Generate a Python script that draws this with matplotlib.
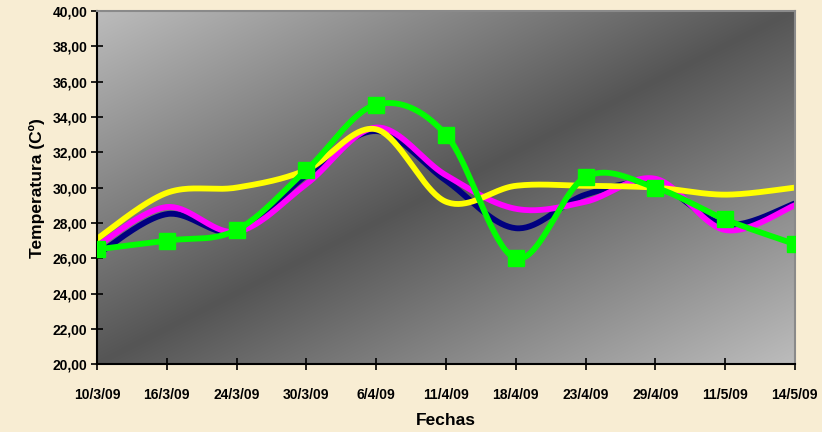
import numpy as np
import matplotlib
matplotlib.use("Agg")
import matplotlib.pyplot as plt

plt.rcParams['font.family'] = ['Liberation Sans', 'DejaVu Sans']
plt.rcParams['font.weight'] = 'bold'

fechas = ["10/3/09", "16/3/09", "24/3/09", "30/3/09", "6/4/09", "11/4/09",
          "18/4/09", "23/4/09", "29/4/09", "11/5/09", "14/5/09"]
serie_azul = [26.2, 28.5, 27.5, 30.7, 33.2, 30.4, 27.7, 29.6, 30.2, 27.9, 29.1]
serie_rosa = [26.7, 28.9, 27.5, 30.2, 33.4, 30.7, 28.8, 29.2, 30.5, 27.6, 29.0]
serie_amarilla = [27.1, 29.7, 30.0, 31.0, 33.3, 29.2, 30.1, 30.1, 30.0, 29.6, 30.0]
serie_verde = [26.5, 27.0, 27.6, 31.0, 34.7, 33.0, 26.0, 30.6, 30.0, 28.2, 26.8]


def suavizar(y, n=40):
    # curva tipo Excel: Bezier cubica con puntos de control a 1/6
    y = np.asarray(y, float)
    x = np.arange(len(y), dtype=float)
    xs, ys = [], []
    for i in range(len(y) - 1):
        i0 = max(i - 1, 0)
        i3 = min(i + 2, len(y) - 1)
        p0 = np.array([x[i], y[i]])
        p3 = np.array([x[i + 1], y[i + 1]])
        c1 = p0 + (p3 - np.array([x[i0], y[i0]])) / 6
        c2 = p3 - (np.array([x[i3], y[i3]]) - p0) / 6
        t = np.linspace(0, 1, n)[:, None]
        pts = ((1 - t) ** 3) * p0 + 3 * ((1 - t) ** 2) * t * c1 \
            + 3 * (1 - t) * t ** 2 * c2 + t ** 3 * p3
        xs.append(pts[:, 0])
        ys.append(pts[:, 1])
    return np.concatenate(xs), np.concatenate(ys)


fig = plt.figure(figsize=(8.22, 4.32), dpi=100, facecolor='#f8edd3')
ax = fig.add_axes([0.118, 0.157, 0.849, 0.8175])

# fondo degradado diagonal
gx, gy = np.meshgrid(np.linspace(0, 1, 400), np.linspace(1, 0, 300))
d = np.abs(gx - gy)
g = (85 + (188 - 85) * d) / 255
img = np.dstack([g, g, g])
ax.imshow(img, extent=[0, len(fechas) - 1, 20, 40], aspect='auto',
          zorder=0, interpolation='bilinear')

for serie, color in [(serie_azul, '#000080'), (serie_rosa, '#ff00ff'),
                     (serie_amarilla, '#ffff00'), (serie_verde, '#00ff00')]:
    xs, ys = suavizar(serie)
    ax.plot(xs, ys, color=color, lw=4.2, solid_capstyle='round', zorder=2)

ax.plot(np.arange(len(serie_verde)), serie_verde, ls='none', marker='s',
        ms=12, color='#00ff00', zorder=3)

ax.set_xlim(0, len(fechas) - 1)
ax.set_ylim(20, 40)
ax.set_xticks(np.arange(len(fechas)))
ax.set_xticklabels(fechas)
ax.set_yticks(np.arange(20, 41, 2))
ax.set_yticklabels([f"{v:.2f}".replace('.', ',') for v in range(20, 41, 2)])
ax.tick_params(axis='both', direction='inout', length=8, width=1.2,
               labelsize=10, color='black')
ax.tick_params(axis='x', pad=13)
ax.tick_params(axis='y', pad=3)
for lab in ax.get_xticklabels() + ax.get_yticklabels():
    lab.set_fontweight('bold')

for s in ['left', 'bottom']:
    ax.spines[s].set_color('black')
    ax.spines[s].set_linewidth(1.5)
for s in ['top', 'right']:
    ax.spines[s].set_color('#8a8a8a')
    ax.spines[s].set_linewidth(1.5)

ax.set_xlabel("Fechas", fontsize=12.5, fontweight='bold', labelpad=8)
ax.set_ylabel("Temperatura (Cº)", fontsize=12.5, fontweight='bold', labelpad=5)

fig.savefig("out.png", dpi=100, facecolor=fig.get_facecolor())
